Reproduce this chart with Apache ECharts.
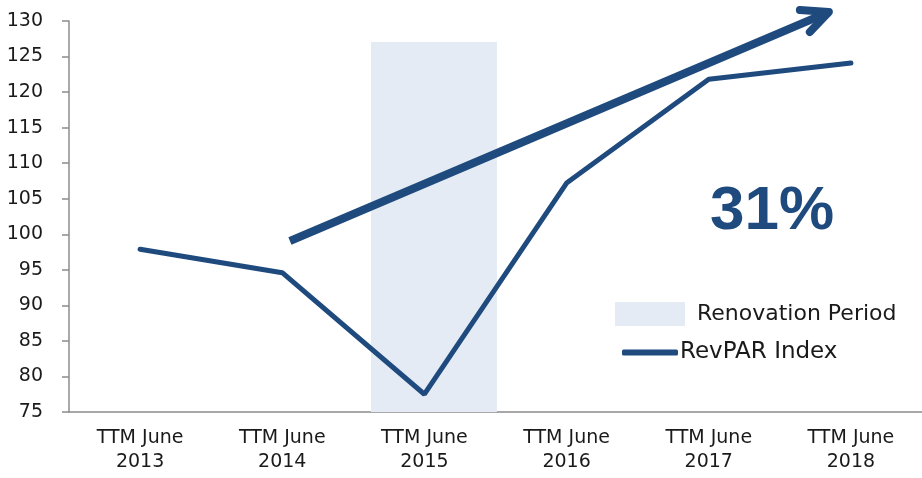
<!DOCTYPE html>
<html>
    <head>
        <meta charset="utf-8">
        <script src="https://cdn.jsdelivr.net/npm/echarts@6/dist/echarts.min.js"></script>
    </head>
    <body style="margin: 0">
        <div id="main" style="width: 922px; height: 478px"></div>

        <script type="text/javascript">
            // values
            const years = ['TTM June\n2013', 'TTM June\n2014', 'TTM June\n2015', 'TTM June\n2016', 'TTM June\n2017', 'TTM June\n2018'];
            const revpar = [97.9, 94.6, 77.5, 107.2, 121.8, 124.1];

            // renovation band and growth arrow, in category units (0..6) on a hidden x axis
            const bandX = [2.124, 3.01];
            const bandTop = 127.05;
            const trendX = [1.554, 5.345];
            const trendY = [99.06, 131.27];
            const headX = [5.141, 5.345, 5.211];
            const headY = [131.55, 131.27, 128.45];

            const blue = '#1f4a7e';
            const font = 'DejaVu Sans';

            var chartDom = document.getElementById('main');
            var myChart = echarts.init(chartDom);
            var option;

            const pairs = (xs, ys) => xs.map((x, i) => [x, ys[i]]);

            option = {
                animation: false,
                title: {
                    text: '31%',
                    left: 705,
                    top: 176,
                    textStyle: { color: blue, fontFamily: 'Liberation Sans', fontWeight: 'bold', fontSize: 62 }
                },
                legend: [
                    {
                        data: [{ name: 'Renovation Period', icon: 'rect' }],
                        left: 610, top: 297,
                        itemWidth: 70, itemHeight: 24,
                        textStyle: { fontFamily: font, fontSize: 22, color: '#1a1a1a', padding: [0, 0, 0, 7] }
                    },
                    {
                        data: [{ name: 'RevPAR Index', icon: 'roundRect' }],
                        left: 617, top: 336,
                        itemWidth: 56, itemHeight: 6,
                        textStyle: { fontFamily: font, fontSize: 23, color: '#1a1a1a', padding: [0, 0, 0, -3] }
                    }
                ],
                grid: { left: 69, right: 0, top: 21, bottom: 66 },
                xAxis: [
                    {
                        type: 'category',
                        data: years,
                        axisLine: { lineStyle: { color: '#8c8c8c', width: 1.5 } },
                        axisTick: { length: 7, lineStyle: { color: '#8c8c8c', width: 1.5 } },
                        axisLabel: { fontFamily: font, fontSize: 19, color: '#1a1a1a', lineHeight: 24, margin: 14 }
                    },
                    { type: 'value', min: 0, max: 6, show: false }
                ],
                yAxis: {
                    type: 'value',
                    min: 75, max: 130, interval: 5,
                    splitLine: { show: false },
                    axisLine: { show: true, lineStyle: { color: '#8c8c8c', width: 1.5 } },
                    axisTick: { show: true, length: 7, lineStyle: { color: '#8c8c8c', width: 1.5 } },
                    axisLabel: { fontFamily: font, fontSize: 19, color: '#1a1a1a', margin: 26 }
                },
                series: [
                    {
                        name: 'Renovation Period',
                        type: 'line',
                        xAxisIndex: 1,
                        data: [],
                        color: '#e4ebf4',
                        z: 1,
                        markArea: {
                            silent: true,
                            itemStyle: { color: '#e4ebf4' },
                            data: [[{ coord: [bandX[0], 75] }, { coord: [bandX[1], bandTop] }]]
                        }
                    },
                    {
                        name: 'RevPAR Index',
                        type: 'line',
                        data: revpar,
                        symbol: 'none',
                        color: blue,
                        lineStyle: { width: 5, color: blue, cap: 'round' },
                        z: 3
                    },
                    {
                        name: 'trend',
                        type: 'line',
                        xAxisIndex: 1,
                        data: pairs(trendX, trendY),
                        symbol: 'none',
                        clip: false,
                        lineStyle: { width: 8, color: blue, cap: 'butt' },
                        z: 4
                    },
                    {
                        name: 'head',
                        type: 'line',
                        xAxisIndex: 1,
                        data: pairs(headX, headY),
                        symbol: 'none',
                        clip: false,
                        lineStyle: { width: 8, color: blue, cap: 'round', join: 'round' },
                        z: 4
                    }
                ]
            };

            option && myChart.setOption(option);
        </script>
    </body>
</html>
